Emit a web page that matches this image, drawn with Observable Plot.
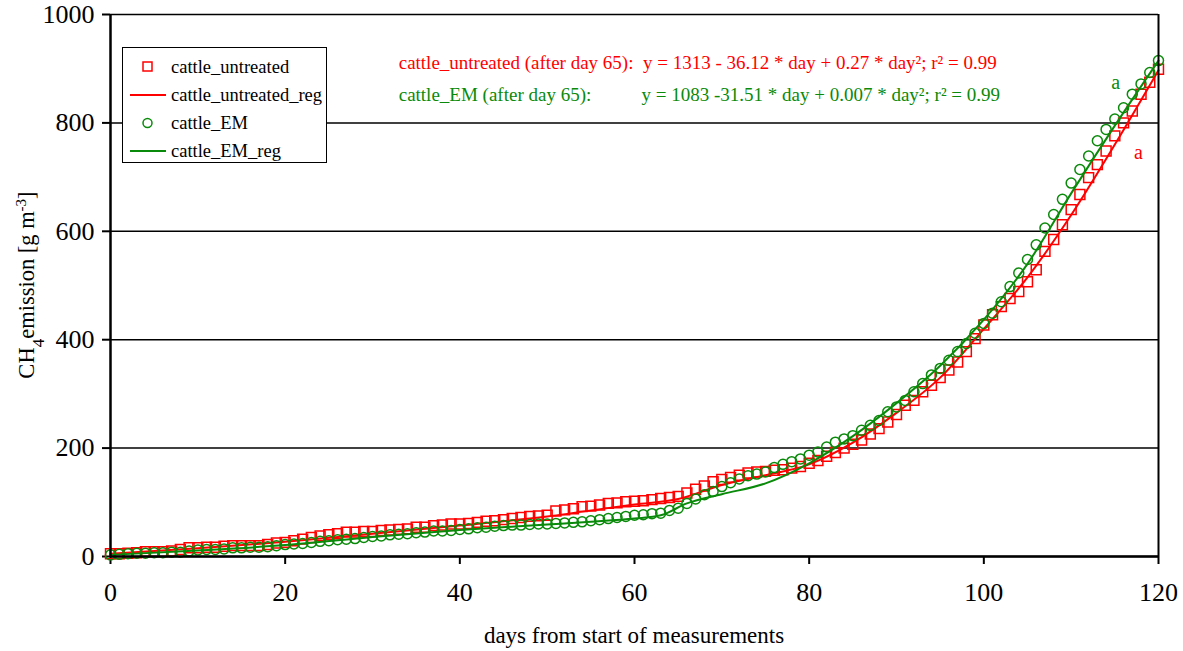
<!DOCTYPE html>
<html>
<head>
<meta charset="utf-8">
<script src="https://cdn.jsdelivr.net/npm/d3@7"></script>
<script src="https://cdn.jsdelivr.net/npm/@observablehq/plot@0.6"></script>
<style>
  body { margin: 0; background: #fff; font-family: "Liberation Serif", "Times New Roman", serif; }
  #chart { position: relative; width: 1183px; height: 651px; }
  #chart svg, #chart svg text { font-family: "Liberation Serif", "Times New Roman", serif !important; }
  #legend {
    position: absolute; left: 122px; top: 47px; width: 205px; height: 116px;
    border: 1.5px solid #000; background: #fff; box-sizing: border-box;
    padding-top: 5px;
  }
  .legend-row { display: flex; align-items: center; height: 28px; font-size: 18.5px; }
  .legend-row svg { margin-left: 6px; margin-right: 4px; }
</style>
</head>
<body>
<div id="chart">
  <div id="legend"></div>
</div>
<script>
// CH4 emission, one reading per day (day = index)
const untreated = [
  5, 5, 6, 7, 9, 9, 9, 10, 13, 16,
  16, 17, 17, 19, 20, 20, 20, 20, 22, 25,
  26, 29, 32, 35, 38, 40, 42, 45, 45, 46,
  46, 48, 49, 50, 51, 54, 54, 57, 58, 60,
  60, 61, 63, 65, 66, 68, 70, 72, 74, 75,
  76, 84, 86, 88, 92, 93, 95, 98, 99, 101,
  102, 103, 105, 107, 109, 111, 117, 124, 130, 138,
  142, 146, 150, 154, 156, 157, 159, 160, 163, 166,
  172, 177, 185, 192, 200, 207, 215, 226, 236, 248,
  262, 279, 288, 304, 316, 330, 344, 359, 378, 402,
  427, 446, 461, 476, 489, 507, 529, 563, 585, 612,
  640, 668, 699, 723, 748, 776, 800, 822, 853, 875,
  899
];
const em = [
  3, 4, 5, 6, 6, 7, 7, 8, 8, 10,
  12, 13, 13, 14, 16, 16, 17, 17, 18, 20,
  22, 23, 24, 26, 28, 29, 31, 32, 33, 35,
  37, 38, 40, 41, 42, 44, 45, 47, 47, 48,
  50, 51, 53, 54, 56, 57, 58, 58, 59, 60,
  60, 61, 62, 63, 64, 66, 68, 70, 72, 74,
  76, 77, 79, 80, 85, 89, 98, 106, 114, 120,
  129, 136, 143, 149, 152, 156, 164, 170, 175, 180,
  187, 193, 202, 211, 217, 223, 233, 242, 251, 267,
  276, 288, 304, 319, 335, 347, 362, 378, 393, 412,
  430, 449, 470, 498, 523, 548, 575, 606, 631, 659,
  689, 714, 739, 767, 788, 807, 828, 853, 872, 893,
  915
];

// regression curves
const untreatedRegDays = [0, 10, 20, 30, 40, 50, 60, 65, 70, 75, 80, 85, 90, 95, 100, 105, 110, 115, 120];
const untreatedRegVals = [5, 15, 27, 42, 57, 74, 96, 106, 132, 150, 170, 210, 265, 330, 420, 515, 630, 760, 897];
const emRegDays = [0, 10, 20, 30, 40, 50, 55, 60, 63, 66, 70, 75, 80, 85, 90, 95, 100, 105, 110, 115, 120];
const emRegVals = [3, 11, 21, 36, 49, 59, 64, 70, 76, 98, 115, 135, 172, 222, 283, 352, 437, 540, 670, 795, 915];

const xTicks = [0, 20, 40, 60, 80, 100, 120];
const yTicks = [0, 200, 400, 600, 800, 1000];

const RED = "#ff0000";
const GREEN = "#0a8a0a";

const equations = [
  {x: 33.0, y: 911, text: "cattle_untreated (after day 65):  y = 1313 - 36.12 * day + 0.27 * day²; r² = 0.99", color: RED},
  {x: 33.0, y: 851, text: "cattle_EM (after day 65):", color: GREEN},
  {x: 60.8, y: 851, text: "y = 1083 -31.51 * day + 0.007 * day²; r² = 0.99", color: GREEN}
];
const letters = [
  {x: 115.1, y: 874, text: "a", color: GREEN},
  {x: 117.7, y: 745, text: "a", color: RED}
];

const legendItems = [
  {label: "cattle_untreated", kind: "square", color: RED},
  {label: "cattle_untreated_reg", kind: "line", color: RED},
  {label: "cattle_EM", kind: "circle", color: GREEN},
  {label: "cattle_EM_reg", kind: "line", color: GREEN}
];

const untreatedPts = untreated.map((v, i) => ({day: i, value: v}));
const emPts = em.map((v, i) => ({day: i, value: v}));
const untreatedReg = untreatedRegDays.map((d, i) => ({day: d, value: untreatedRegVals[i]}));
const emReg = emRegDays.map((d, i) => ({day: d, value: emRegVals[i]}));

const chart = Plot.plot({
  width: 1183,
  height: 651,
  marginLeft: 110,
  marginRight: 25,
  marginTop: 14,
  marginBottom: 95,
  style: {fontFamily: "'Liberation Serif', serif", fontSize: "22px", color: "black", background: "white"},
  x: {domain: [0, 120]},
  y: {domain: [0, 1000]},
  marks: [
    Plot.ruleY(yTicks, {stroke: "black", strokeWidth: 1.5}),
    Plot.axisX(xTicks, {tickSize: 8, tickPadding: 18, strokeWidth: 2, label: null, fontSize: 26}),
    Plot.axisY(yTicks, {tickSize: 8, tickPadding: 8, strokeWidth: 2, label: null, fontSize: 26, tickFormat: "d"}),
    Plot.dot(untreatedPts, {x: "day", y: "value", symbol: "square", r: 5.6, stroke: RED, strokeWidth: 1.5, fill: "none"}),
    Plot.line(untreatedReg, {x: "day", y: "value", stroke: RED, strokeWidth: 2, curve: "monotone-x"}),
    Plot.dot(emPts, {x: "day", y: "value", symbol: "circle", r: 5, stroke: GREEN, strokeWidth: 1.5, fill: "none"}),
    Plot.line(emReg, {x: "day", y: "value", stroke: GREEN, strokeWidth: 2, curve: "monotone-x"}),
    Plot.ruleX([0], {stroke: "black", strokeWidth: 2.5}),
    Plot.ruleX([120], {stroke: "black", strokeWidth: 2}),
    Plot.ruleY([0], {stroke: "black", strokeWidth: 2.5}),
    Plot.text(equations, {x: "x", y: "y", text: "text", fill: "color", textAnchor: "start", fontSize: 19}),
    Plot.text(letters, {x: "x", y: "y", text: "text", fill: "color", fontSize: 20})
  ]
});

const svg = d3.select(chart);

// x-axis title
svg.append("text")
  .attr("x", 634).attr("y", 643)
  .attr("text-anchor", "middle")
  .attr("font-size", 23)
  .attr("fill", "black")
  .text("days from start of measurements");

// y-axis title with sub/superscript
const yLabel = svg.append("text")
  .attr("transform", "translate(34,285) rotate(-90)")
  .attr("text-anchor", "middle")
  .attr("font-size", 22.5)
  .attr("fill", "black");
yLabel.append("tspan").text("CH");
yLabel.append("tspan").attr("baseline-shift", "sub").attr("font-size", 17).text("4");
yLabel.append("tspan").text("emission [g m");
yLabel.append("tspan").attr("baseline-shift", "super").attr("font-size", 15).text("-3");
yLabel.append("tspan").text("]");

const container = document.getElementById("chart");
container.insertBefore(chart, container.firstChild);

// legend box inside the plot area
const legend = d3.select("#legend");
legendItems.forEach((item) => {
  const row = legend.append("div").attr("class", "legend-row");
  const s = row.append("svg").attr("width", 38).attr("height", 20);
  if (item.kind === "line") {
    s.append("line").attr("x1", 1).attr("x2", 37).attr("y1", 10).attr("y2", 10)
      .attr("stroke", item.color).attr("stroke-width", 2);
  } else if (item.kind === "square") {
    s.append("rect").attr("x", 14).attr("y", 5).attr("width", 9).attr("height", 9)
      .attr("fill", "none").attr("stroke", item.color).attr("stroke-width", 1.5);
  } else {
    s.append("circle").attr("cx", 18.5).attr("cy", 10).attr("r", 4.5)
      .attr("fill", "none").attr("stroke", item.color).attr("stroke-width", 1.5);
  }
  row.append("span").text(item.label);
});
</script>
</body>
</html>
